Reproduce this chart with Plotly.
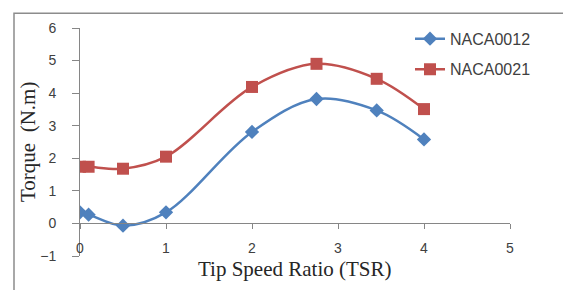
import plotly.graph_objects as go

tsr = [0, 0.1, 0.5, 1, 2, 2.75, 3.45, 4]
naca0012 = [0.34, 0.27, -0.07, 0.34, 2.81, 3.82, 3.47, 2.58]
naca0021 = [1.74, 1.74, 1.68, 2.05, 4.19, 4.90, 4.44, 3.51]
series_names = ["NACA0012", "NACA0021"]
x_ticks = [0, 1, 2, 3, 4, 5]
y_ticks = [-1, 0, 1, 2, 3, 4, 5, 6]

# page body has an 8px margin; work in reference-pixel coordinates
OFF = 8
W, H = 571 - OFF, 290 - OFF
L, T = 80 - OFF, 24 - OFF
R = W - (510 - OFF)
B = H - (256 - OFF)
pw, ph = W - L - R, H - T - B

def px(x):
    return (x - OFF - L) / pw

def py(y):
    return (H - B - (y - OFF)) / ph

fig = go.Figure()
fig.add_trace(go.Scatter(
    x=tsr, y=naca0012, name=series_names[0], mode="lines+markers",
    line=dict(color="#4F81BD", width=2.5, shape="spline", smoothing=1),
    marker=dict(symbol="diamond", size=11, color="#4F81BD"),
    legend="legend"))
fig.add_trace(go.Scatter(
    x=tsr, y=naca0021, name=series_names[1], mode="lines+markers",
    line=dict(color="#C0504D", width=2.5, shape="spline", smoothing=1),
    marker=dict(symbol="square", size=12, color="#C0504D"),
    legend="legend2"))

tickfont = dict(family="Liberation Sans", size=14, color="#404040")
legfont = dict(family="Liberation Sans", size=16, color="#404040")

fig.update_layout(
    width=W, height=H,
    margin=dict(l=L, r=R, t=T, b=B),
    paper_bgcolor="white", plot_bgcolor="white",
    showlegend=True,
    legend=dict(x=px(410), y=py(35), xanchor="left", yanchor="middle",
                font=legfont, bgcolor="rgba(0,0,0,0)", itemwidth=30),
    legend2=dict(x=px(410), y=py(66), xanchor="left", yanchor="middle",
                 font=legfont, bgcolor="rgba(0,0,0,0)", itemwidth=30),
    xaxis=dict(range=[0, 5], tickvals=x_ticks, showgrid=False, zeroline=False,
               showline=True, linecolor="#868686", linewidth=1,
               ticks="outside", ticklen=5, tickcolor="#868686",
               tickfont=tickfont, anchor="free", position=1/7,
               ticklabelstandoff=7),
    yaxis=dict(range=[-1, 6], tickvals=y_ticks, showgrid=False, zeroline=False,
               showline=True, linecolor="#868686", linewidth=1,
               ticks="outside", ticklen=7, tickcolor="#868686",
               tickfont=tickfont, ticklabelstandoff=13),
    shapes=[dict(type="rect", xref="paper", yref="paper",
                 x0=px(14), x1=px(568), y0=py(300), y1=py(9),
                 line=dict(color="#8c8c8c", width=1.5), layer="below")],
    annotations=[
        dict(text="Tip Speed Ratio (TSR)", xref="paper", yref="paper",
             x=px(295), y=py(269), xanchor="center", yanchor="middle",
             showarrow=False,
             font=dict(family="Liberation Serif", size=21, color="#262626")),
        dict(text="Torque  (N.m)", xref="paper", yref="paper",
             x=px(28), y=py(140), xanchor="center", yanchor="middle",
             textangle=-90, showarrow=False,
             font=dict(family="Liberation Serif", size=21, color="#262626")),
    ],
)

fig.write_html("out.html")
